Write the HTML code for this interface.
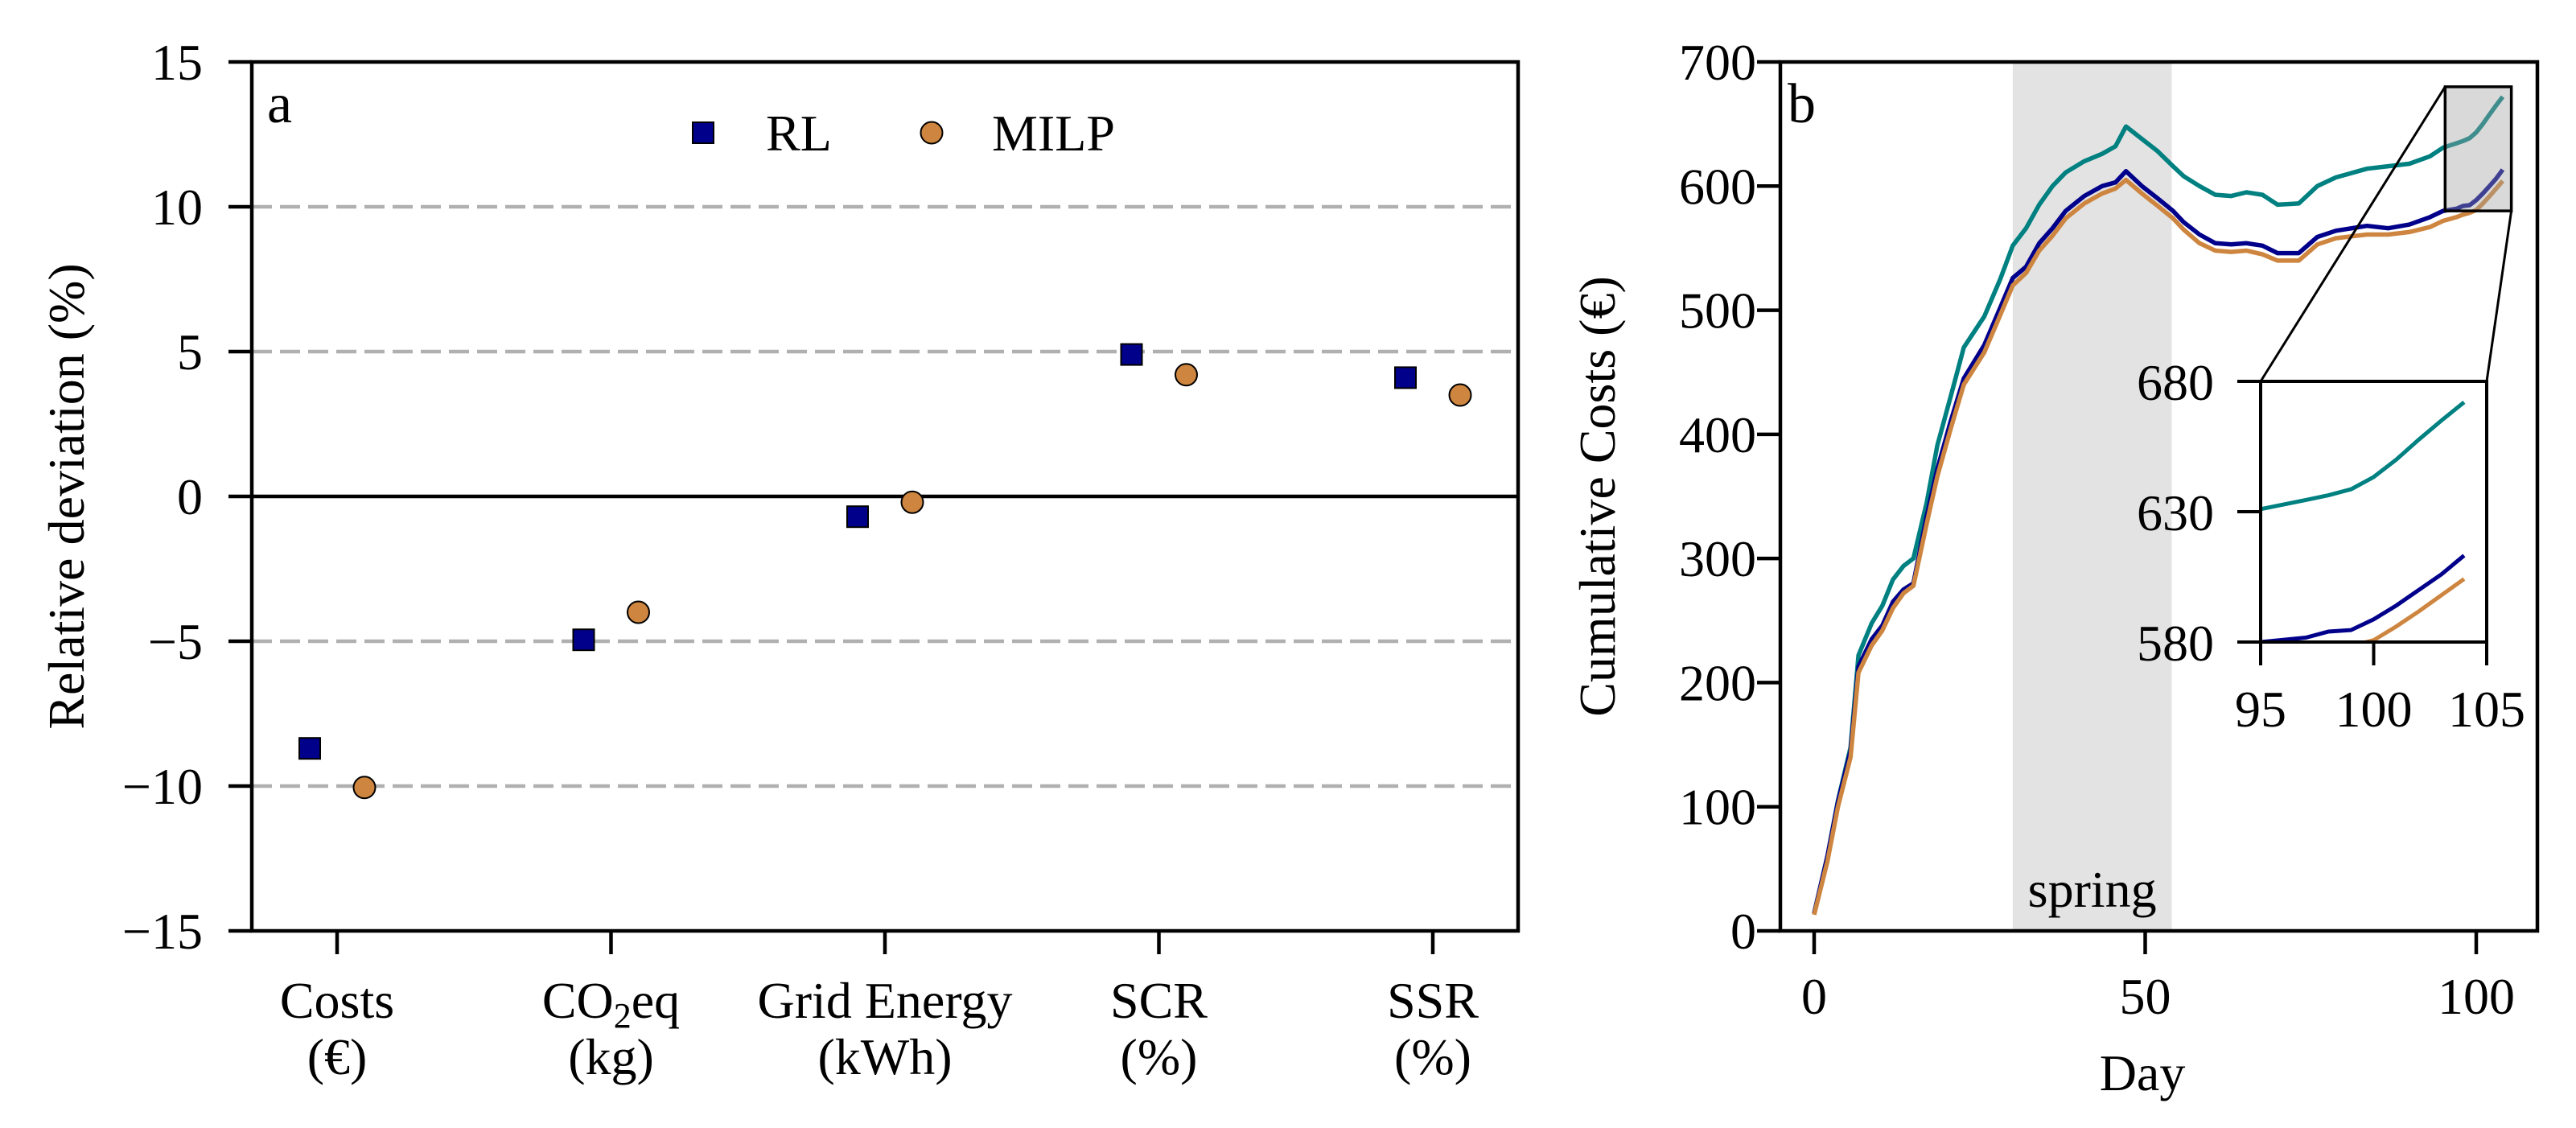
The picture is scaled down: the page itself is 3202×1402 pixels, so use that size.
<!DOCTYPE html>
<html><head><meta charset="utf-8"><style>
html,body{margin:0;padding:0;background:#fff;width:3202px;height:1402px;overflow:hidden}
svg{display:block}
text{font-family:"Liberation Serif","DejaVu Serif",serif;fill:#000}
</style></head><body>
<svg id="fig" width="3202" height="1402" viewBox="0 0 3202 1402" xmlns="http://www.w3.org/2000/svg"><defs><clipPath id="ic"><rect x="2810" y="474" width="281" height="324"/></clipPath></defs></svg>
<script>
// Panel a data
const categories = ["Costs", "CO2eq", "Grid Energy", "SCR", "SSR"];
const categoryUnits = ["(€)", "(kg)", "(kWh)", "(%)", "(%)"];
const rlValues = [-8.7, -4.95, -0.7, 4.9, 4.1];
const milpValues = [-10.05, -4.0, -0.2, 4.2, 3.5];
const aYTicks = [-15, -10, -5, 0, 5, 10, 15];
const aGridLines = [-10, -5, 5, 10];
// Panel b data
const days = [0,2,3.6,5.5,6.7,8.7,10.3,11.9,13.5,15,17,18.6,20.6,22.6,25.7,28.1,30,32,34,36,38,40.8,43.5,45.5,47.1,49.5,51.9,54.2,55.8,58.2,60.6,63,65.3,67.7,70,73.2,76,78.8,83.5,86.7,89.9,93,95,97,98,99,100,101,102,103,104];
const rlCost = [14,60,104,145,213,235,246,265,275,280,334,372,410,445,472,502,526,535,554,566,580,592,600,603,612,600,590,580,571,561,554,553,554,552,546,546,559,564,568,566,569,575,580,581.7,584,584.6,588.7,594,600,606,613.2];
const otherCost = [14,60,105,148,222,248,262,283,294,300,345,391,430,470,495,525,552,566,585,600,611,620,626,632,648,638,628,616,608,600,593,592,595,593,585,586,600,607,614,616,618,624,631,634.5,636.3,638.6,643.3,650,657.7,665,672];
const milpCost = [13,56,100,140,208,230,242,260,272,278,328,366,404,440,466,496,520,530,548,560,574,586,594,598,605,594,584,574,565,554,548,547,548,545,540,540,553,558,561,561,563,567,572,575,577,578.5,580.7,586,591.8,598,604.2];
const bYTicks = [0,100,200,300,400,500,600,700];
const bXTicks = [0,50,100];
const springRange = [30,54];
const insetXTicks = [95,100,105];
const insetYTicks = [580,630,680];

const NS = "http://www.w3.org/2000/svg";
const svg = document.getElementById('fig');
function el(tag, attrs, parent) {
  const e = document.createElementNS(NS, tag);
  for (const k in attrs) e.setAttribute(k, attrs[k]);
  (parent || svg).appendChild(e);
  return e;
}
const NAVY = "#00008b", PERU = "#cd853f", TEAL = "#008080";
const FS = 64;

// ===== Panel a =====
const A = {l:313, r:1887, t:77, b:1157};
const ax = i => 419 + i * 340.5;
const ay = v => A.t + (15 - v) * (A.b - A.t) / 30;
const ga = el('g', {});


aGridLines.forEach(v => {
  const l = el('line', {x1:A.l, x2:A.r, y1:ay(v), y2:ay(v), stroke:"#b0b0b0", 'stroke-width':4.5, 'stroke-dasharray':"25 10"}, ga);
  
  
});
const zl = el('line', {x1:A.l, x2:A.r, y1:ay(0), y2:ay(0), stroke:"#000", 'stroke-width':4.5}, ga);


rlValues.forEach((v, i) => {
  const s = el('rect', {x:ax(i) - 34 - 13, y:ay(v) - 13, width:26, height:26, fill:NAVY, stroke:"#000", 'stroke-width':2}, ga);
  
  
});
milpValues.forEach((v, i) => {
  const c = el('circle', {cx:ax(i) + 34, cy:ay(v), r:13.5, fill:PERU, stroke:"#000", 'stroke-width':2}, ga);
  
  
});
const fa = el('rect', {x:A.l, y:A.t, width:A.r - A.l, height:A.b - A.t, fill:"none", stroke:"#000", 'stroke-width':4.5}, ga);


aYTicks.forEach(v => {
  el('line', {x1:A.l - 29, x2:A.l, y1:ay(v), y2:ay(v), stroke:"#000", 'stroke-width':4.5}, ga);
  const t = el('text', {x:252, y:ay(v) + 22, 'text-anchor':'end', 'font-size':FS}, ga);
  t.textContent = (v < 0 ? "\u2212" + (-v) : String(v));
  
  
});
categories.forEach((c, i) => {
  el('line', {x1:ax(i), x2:ax(i), y1:A.b, y2:A.b + 29, stroke:"#000", 'stroke-width':4.5}, ga);
  const t = el('text', {x:ax(i), y:1265, 'text-anchor':'middle', 'font-size':FS}, ga);
  if (c === "CO2eq") {
    t.innerHTML = 'CO<tspan font-size="44" dy="12">2</tspan><tspan dy="-12">eq</tspan>';
  } else t.textContent = c;
  
  
  const u = el('text', {x:ax(i), y:1335, 'text-anchor':'middle', 'font-size':FS}, ga);
  u.textContent = categoryUnits[i];
  
  
});
const yta = el('text', {x:0, y:0, 'text-anchor':'middle', 'font-size':FS, transform:'translate(104,617) rotate(-90)'}, ga);
yta.textContent = "Relative deviation (%)";


const la = el('text', {x:332, y:152, 'font-size':70}, ga);
la.textContent = "a";


const lg = el('g', {}, ga);


el('rect', {x:861, y:152, width:26, height:26, fill:NAVY, stroke:"#000", 'stroke-width':2}, lg);
const lt1 = el('text', {x:952, y:187, 'font-size':FS}, lg);
lt1.textContent = "RL";


el('circle', {cx:1158, cy:165, r:13.5, fill:PERU, stroke:"#000", 'stroke-width':2}, lg);
const lt2 = el('text', {x:1233, y:187, 'font-size':FS}, lg);
lt2.textContent = "MILP";



// ===== Panel b =====
const B = {l:2213, r:3154, t:77, b:1157};
const bx = d => 2255 + d * 8.23;
const by = v => B.b - v * (B.b - B.t) / 700;
const gb = el('g', {});


const sp = el('rect', {x:bx(springRange[0]), y:B.t, width:bx(springRange[1]) - bx(springRange[0]), height:B.b - B.t, fill:"#e3e3e3"}, gb);


const spt = el('text', {x:(bx(springRange[0]) + bx(springRange[1])) / 2, y:1127, 'text-anchor':'middle', 'font-size':FS}, gb);
spt.textContent = "spring";


function path(vals, fx, fy) { return vals.map((v, i) => (i ? "L" : "M") + fx(days[i]).toFixed(1) + " " + fy(v).toFixed(1)).join(" "); }
[[otherCost, TEAL, 'line-teal'], [rlCost, NAVY, 'line-rl'], [milpCost, PERU, 'line-milp']].forEach(([vals, col, nm]) => {
  const p = el('path', {d:path(vals, bx, by), fill:"none", stroke:col, 'stroke-width':5.5, 'stroke-linejoin':'round'}, gb);
  
  
});
const zx0 = bx(95.3), zx1 = bx(105.3), zy0 = by(680), zy1 = by(580);
const zb = el('rect', {x:zx0, y:zy0, width:zx1 - zx0, height:zy1 - zy0, fill:"rgba(160,160,160,0.4)", stroke:"#000", 'stroke-width':3.5}, gb);


const fb = el('rect', {x:B.l, y:B.t, width:B.r - B.l, height:B.b - B.t, fill:"none", stroke:"#000", 'stroke-width':4.5}, gb);


bYTicks.forEach(v => {
  el('line', {x1:B.l - 29, x2:B.l, y1:by(v), y2:by(v), stroke:"#000", 'stroke-width':4.5}, gb);
  const t = el('text', {x:2183, y:by(v) + 22, 'text-anchor':'end', 'font-size':FS}, gb);
  t.textContent = v;
  
  
});
bXTicks.forEach(v => {
  el('line', {x1:bx(v), x2:bx(v), y1:B.b, y2:B.b + 29, stroke:"#000", 'stroke-width':4.5}, gb);
  const t = el('text', {x:bx(v), y:1260, 'text-anchor':'middle', 'font-size':FS}, gb);
  t.textContent = v;
  
  
});
const xtb = el('text', {x:2663, y:1355, 'text-anchor':'middle', 'font-size':FS}, gb);
xtb.textContent = "Day";


const ytb = el('text', {x:0, y:0, 'text-anchor':'middle', 'font-size':FS, transform:'translate(2007,617) rotate(-90)'}, gb);
ytb.textContent = "Cumulative Costs (€)";


const lb = el('text', {x:2222, y:152, 'font-size':70}, gb);
lb.textContent = "b";



// ===== Inset =====
const I = {l:2810, r:3091, t:474, b:798};
const ix = d => I.l + (d - 95) * (I.r - I.l) / 10;
const iy = v => I.b - (v - 580) * (I.b - I.t) / 100;
const gi = el('g', {});


el('line', {x1:I.l, y1:I.t, x2:zx0, y2:zy0, stroke:"#000", 'stroke-width':3}, gi);
el('line', {x1:I.r, y1:I.t, x2:zx1, y2:zy1, stroke:"#000", 'stroke-width':3}, gi);
el('rect', {x:I.l, y:I.t, width:I.r - I.l, height:I.b - I.t, fill:"#fff"}, gi);
[[otherCost, TEAL, 'inset-line-teal'], [rlCost, NAVY, 'inset-line-rl'], [milpCost, PERU, 'inset-line-milp']].forEach(([vals, col, nm]) => {
  const p = el('path', {d:path(vals, ix, iy), fill:"none", stroke:col, 'stroke-width':5, 'clip-path':'url(#ic)'}, gi);
  
  
});
el('rect', {x:I.l, y:I.t, width:I.r - I.l, height:I.b - I.t, fill:"none", stroke:"#000", 'stroke-width':4}, gi);
insetYTicks.forEach(v => {
  el('line', {x1:I.l - 29, x2:I.l, y1:iy(v), y2:iy(v), stroke:"#000", 'stroke-width':4}, gi);
  const t = el('text', {x:2752, y:iy(v) + 23, 'text-anchor':'end', 'font-size':64}, gi);
  t.textContent = v;
  
  
});
insetXTicks.forEach(v => {
  el('line', {x1:ix(v), x2:ix(v), y1:I.b, y2:I.b + 29, stroke:"#000", 'stroke-width':4}, gi);
  const t = el('text', {x:ix(v), y:903, 'text-anchor':'middle', 'font-size':64}, gi);
  t.textContent = v;
  
  
});
</script>
</body></html>
